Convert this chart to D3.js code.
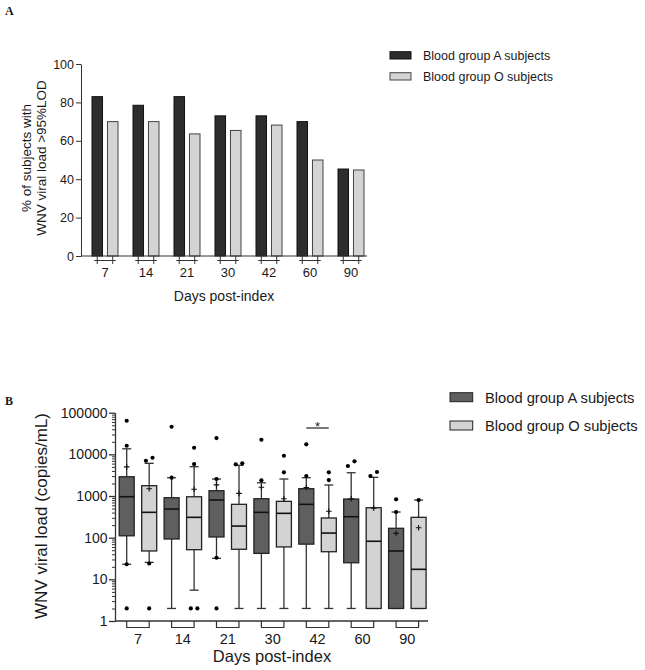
<!DOCTYPE html>
<html><head><meta charset="utf-8">
<script src="https://cdn.jsdelivr.net/npm/d3@7/dist/d3.min.js"></script>
<style>body{margin:0;background:#fff}svg{display:block}text{font-family:"Liberation Sans",Arial,sans-serif;fill:#1a1a1a}</style>
</head><body>
<script>
// ---------- DATA ----------
const days = ["7","14","21","30","42","60","90"];
const series = ["A","O"];
const legendLabels = ["Blood group A subjects","Blood group O subjects"];
// Panel A: % of subjects with WNV viral load > 95% LOD
const pctA = [83, 78.5, 83, 73, 73, 70, 45.3];
const pctO = [70, 70, 63.6, 65.4, 68.2, 50, 44.8];
const pctTicks = [0,20,40,60,80,100];
// Panel B: WNV viral load (copies/mL) box plots
const aLow  = [23, 2, 32, 2, 2, 2, 2];
const aQ1   = [111, 93, 104, 42, 70, 25, 2];
const aMed  = [962, 487, 801, 406, 632, 318, 48];
const aQ3   = [2900, 910, 1340, 861, 1500, 847, 168];
const aHigh = [13600, 2750, 2560, 2080, 2750, 3620, 413];
const aMean = [5000, null, 1850, 1620, 1600, 860, 127];
const aOut  = [[64000,16100,23,2],[46000,2750],[24600,2560,33,2],[22400,2380],[17400,3020],[5250,6800],[832,413]];
const oLow  = [25.6, 5.5, 2, 2, 2, 2, 2];
const oQ1   = [48, 51.5, 52.7, 60, 46, 2, 2];
const oMed  = [406, 308, 190, 384, 129, 82, 17.4];
const oQ3   = [1770, 960, 632, 745, 297, 524, 308];
const oHigh = [6090, 5050, 5450, 2560, 1835, 2810, 800];
const oMean = [1500, 1450, 1160, 860, 430, 510, 173];
const oOut  = [[7030,8300,24,2],[14400,5860,2,2],[5760,6100],[9270,3700],[3700,2420],[3020,3770],[800]];
const logTicks = [1,10,100,1000,10000,100000];
const sigPair = "42";

// ---------- SVG ----------
const W = 645, H = 670;
const svg = d3.select("body").append("svg").attr("width", W).attr("height", H);
const dark = "#222";

// Panel labels
svg.append("text").attr("x",5).attr("y",15)
  .attr("font-weight","bold").attr("font-size",12).style("font-family","'Liberation Serif','Times New Roman',serif").text("A");
svg.append("text").attr("x",5).attr("y",405)
  .attr("font-weight","bold").attr("font-size",12).style("font-family","'Liberation Serif','Times New Roman',serif").text("B");

// ================= PANEL A =================
(function(){
  const yA = d3.scaleLinear().domain([0,100]).range([256,64]);
  const xA = d3.scaleBand().domain(days).range([84.5, 371.5]).padding(0);
  const sub = d3.scaleBand().domain(series).range([-13,13]).paddingInner(0.32);
  const colors = {A:"#2d2d2d", O:"#d4d4d4"};
  const strokes = {A:"#111", O:"#444"};
  const vals = {A:pctA, O:pctO};
  const cx = d => xA(d) + xA.bandwidth()/2;

  const g = svg.append("g");
  series.forEach(s => {
    g.selectAll(null).data(days).enter().append("rect")
      .attr("x", (d)=> cx(d)+sub(s))
      .attr("width", sub.bandwidth())
      .attr("y", (d,i)=> yA(vals[s][i]))
      .attr("height", (d,i)=> yA(0)-yA(vals[s][i]))
      .attr("fill", colors[s]).attr("stroke", strokes[s]).attr("stroke-width",1);
  });

  const ax = svg.append("g").attr("transform","translate(81,0)")
    .call(d3.axisLeft(yA).tickValues(pctTicks).tickSize(5).tickPadding(2).tickSizeOuter(0));
  ax.selectAll("text").attr("font-size",12.5).style("fill","#1a1a1a");
  ax.selectAll("line,path").attr("stroke","#333");

  svg.append("line").attr("x1",81).attr("x2",367).attr("y1",yA(0)).attr("y2",yA(0)).attr("stroke","#333");
  // brackets
  days.forEach(d => {
    const a = cx(d)+sub("A")+sub.bandwidth()/2, o = cx(d)+sub("O")+sub.bandwidth()/2;
    const bg = svg.append("g").attr("stroke","#333").attr("fill","none");
    bg.append("line").attr("x1",a).attr("x2",a).attr("y1",256).attr("y2",264);
    bg.append("line").attr("x1",o).attr("x2",o).attr("y1",256).attr("y2",264);
    bg.append("line").attr("x1",a-3).attr("x2",o+3).attr("y1",260.5).attr("y2",260.5);
    svg.append("text").attr("x",cx(d)).attr("y",276.5).attr("text-anchor","middle").attr("font-size",13).text(d);
  });
  svg.append("text").attr("x",224).attr("y",301).attr("text-anchor","middle").attr("font-size",14).text("Days post-index");
  svg.append("text").attr("transform","translate(30.5,158) rotate(-90)").attr("text-anchor","middle").attr("font-size",13.5).text("% of subjects with");
  svg.append("text").attr("transform","translate(45.5,158) rotate(-90)").attr("text-anchor","middle").attr("font-size",13.5).text("WNV viral load >95%LOD");

  // legend
  series.forEach((s,i) => {
    svg.append("rect").attr("x",390).attr("y",51.7+21*i).attr("width",21).attr("height",7.3)
      .attr("fill",colors[s]).attr("stroke",strokes[s]);
    svg.append("text").attr("x",423).attr("y",59.5+21*i).attr("font-size",12.5).text(legendLabels[i]);
  });
})();

// ================= PANEL B =================
(function(){
  const yB = d3.scaleLog().domain([1,100000]).range([621,412.7]);
  const xB = d3.scaleBand().domain(days).range([115.5, 429.8]).padding(0);
  const sub = d3.scaleBand().domain(series).range([-18.75,18.75]).paddingInner(1/3);
  const cx = d => xB(d) + xB.bandwidth()/2;
  const colors = {A:"#5f5f5f", O:"#d3d3d3"};
  const data = {
    A:{low:aLow,q1:aQ1,med:aMed,q3:aQ3,high:aHigh,mean:aMean,out:aOut},
    O:{low:oLow,q1:oQ1,med:oMed,q3:oQ3,high:oHigh,mean:oMean,out:oOut}
  };
  const bw = sub.bandwidth();

  series.forEach(s => {
    const D = data[s];
    days.forEach((d,i) => {
      const c = cx(d) + sub(s) + bw/2;
      const g = svg.append("g");
      // whiskers
      g.append("line").attr("x1",c).attr("x2",c).attr("y1",yB(D.q3[i])).attr("y2",yB(D.high[i])).attr("stroke","#333").attr("stroke-width",1.3);
      g.append("line").attr("x1",c).attr("x2",c).attr("y1",yB(D.q1[i])).attr("y2",yB(D.low[i])).attr("stroke","#333").attr("stroke-width",1.3);
      g.append("line").attr("x1",c-4.5).attr("x2",c+4.5).attr("y1",yB(D.high[i])).attr("y2",yB(D.high[i])).attr("stroke","#333").attr("stroke-width",1.3);
      g.append("line").attr("x1",c-4.5).attr("x2",c+4.5).attr("y1",yB(D.low[i])).attr("y2",yB(D.low[i])).attr("stroke","#333").attr("stroke-width",1.3);
      // box
      g.append("rect").attr("x",c-bw/2).attr("width",bw)
        .attr("y",yB(D.q3[i])).attr("height",yB(D.q1[i])-yB(D.q3[i]))
        .attr("fill",colors[s]).attr("stroke",dark).attr("stroke-width",1.3);
      g.append("line").attr("x1",c-bw/2).attr("x2",c+bw/2).attr("y1",yB(D.med[i])).attr("y2",yB(D.med[i])).attr("stroke","#111").attr("stroke-width",1.6);
      // mean
      if (D.mean[i] != null) {
        const my = yB(D.mean[i]);
        g.append("path").attr("d",`M${c-2.8},${my}H${c+2.8}M${c},${my-2.8}V${my+2.8}`).attr("stroke","#111").attr("stroke-width",1.1);
      }
      // outliers (spread pairs that would overlap)
      const outs = D.out[i].slice().sort((a,b)=>a-b);
      const offs = outs.map(()=>0);
      for (let k=0;k<outs.length-1;k++){
        if (Math.abs(Math.log10(outs[k+1])-Math.log10(outs[k]))<0.12 && offs[k]===0){
          offs[k]=-3.3; offs[k+1]=3.3; k++;
        }
      }
      outs.forEach((v,k)=>{
        g.append("circle").attr("cx",c+offs[k]).attr("cy",yB(v)).attr("r",2.1).attr("fill","#000");
      });
    });
  });

  // y axis
  const minor = [];
  for (let e=0;e<5;e++) for (let m=2;m<=9;m++) minor.push(m*Math.pow(10,e));
  const axm = svg.append("g").attr("transform","translate(115,0)")
    .call(d3.axisLeft(yB).tickValues(minor).tickSize(3).tickFormat("").tickSizeOuter(0));
  axm.selectAll("line,path").attr("stroke","#333");
  const ax = svg.append("g").attr("transform","translate(115,0)")
    .call(d3.axisLeft(yB).tickValues(logTicks).tickSize(6).tickPadding(1.5).tickFormat(d3.format("d")).tickSizeOuter(0));
  ax.selectAll("text").attr("font-size",14).style("fill","#1a1a1a");
  ax.selectAll("line,path").attr("stroke","#333").attr("stroke-width",1.3);

  svg.append("line").attr("x1",115).attr("x2",428).attr("y1",621).attr("y2",621).attr("stroke","#333").attr("stroke-width",1.3);
  days.forEach(d => {
    const a = cx(d)+sub("A")+bw/2, o = cx(d)+sub("O")+bw/2;
    svg.append("path").attr("d",`M${a},621V627.5H${o}V621`).attr("fill","none").attr("stroke","#333").attr("stroke-width",1.2);
    svg.append("text").attr("x",cx(d)).attr("y",643.5).attr("text-anchor","middle").attr("font-size",14.5).text(d);
  });
  svg.append("text").attr("x",272).attr("y",662).attr("text-anchor","middle").attr("font-size",16.5).text("Days post-index");
  svg.append("text").attr("transform","translate(47,516) rotate(-90)").attr("text-anchor","middle").attr("font-size",17).text("WNV viral load (copies/mL)");

  // significance
  const sa = cx(sigPair)+sub("A")+bw/2, so = cx(sigPair)+sub("O")+bw/2;
  svg.append("line").attr("x1",sa).attr("x2",so).attr("y1",428).attr("y2",428).attr("stroke","#222").attr("stroke-width",1.2);
  svg.append("text").attr("x",(sa+so)/2).attr("y",431).attr("text-anchor","middle").attr("font-size",13).text("*");

  // legend
  series.forEach((s,i) => {
    svg.append("rect").attr("x",450).attr("y",392.7+28.3*i).attr("width",22.7).attr("height",9)
      .attr("fill",colors[s]).attr("stroke",dark);
    svg.append("text").attr("x",485).attr("y",403+28*i).attr("font-size",14.7).text(legendLabels[i]);
  });
})();
</script>
</body></html>
